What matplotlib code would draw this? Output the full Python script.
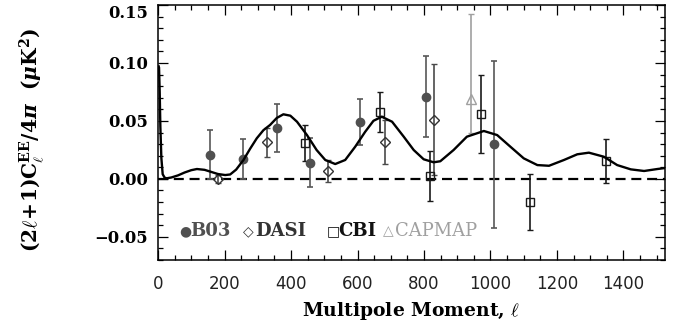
import matplotlib
matplotlib.use("Agg")
import matplotlib.pyplot as plt
from matplotlib.ticker import MultipleLocator, FuncFormatter

plt.rcParams['mathtext.fontset'] = 'custom'
plt.rcParams['mathtext.rm'] = 'DejaVu Serif:bold'
plt.rcParams['mathtext.it'] = 'DejaVu Serif:italic:bold'
plt.rcParams['mathtext.bf'] = 'DejaVu Serif:bold'

# ---------------- data ----------------
theory_l = [2, 3, 5, 7, 10, 14, 20, 26, 40, 60, 80, 100, 117, 140, 160, 180, 202, 217,
            235, 257, 277, 297, 317, 337, 357, 377, 398, 418, 448, 477, 503, 533, 563,
            593, 623, 648, 673, 704, 739, 769, 799, 829, 849, 889, 929, 980, 1020, 1060,
            1100, 1141, 1176, 1221, 1261, 1296, 1341, 1381, 1422, 1462, 1502, 1532]
theory_ee = [0.097, 0.096, 0.075, 0.045, 0.018, 0.004, 0.001, 0.0005, 0.0012, 0.003,
             0.0055, 0.0075, 0.0085, 0.0078, 0.006, 0.0042, 0.0033, 0.0038, 0.008,
             0.0163, 0.026, 0.035, 0.042, 0.0465, 0.0525, 0.0557, 0.0545, 0.0493,
             0.0378, 0.0249, 0.0163, 0.0128, 0.0163, 0.0277, 0.0406, 0.0501, 0.0536,
             0.0493, 0.0364, 0.0249, 0.0169, 0.0143, 0.0152, 0.0249, 0.0364, 0.0413,
             0.0378, 0.0277, 0.0177, 0.0119, 0.0113, 0.0163, 0.0212, 0.0226, 0.0191,
             0.0119, 0.0082, 0.0068, 0.0085, 0.0096]

b03_l = [157, 257, 357, 458, 608, 807, 1010]
b03_ee = [0.021, 0.017, 0.044, 0.014, 0.049, 0.071, 0.030]
b03_err = [0.0215, 0.017, 0.021, 0.021, 0.020, 0.035, 0.072]

dasi_l = [180, 329, 511, 682, 831]
dasi_ee = [0.000, 0.0315, 0.007, 0.032, 0.051]
dasi_err = [0.0035, 0.0125, 0.0095, 0.019, 0.048]

cbi_l = [443, 669, 819, 970, 1120, 1346]
cbi_ee = [0.0307, 0.0574, 0.0027, 0.056, -0.0197, 0.0157]
cbi_err = [0.0155, 0.0173, 0.0216, 0.034, 0.024, 0.019]

capmap_l = [942]
capmap_ee = [0.0686]
capmap_err_lo = [0.029]
capmap_err_hi = [0.074]

x_ticks = [0, 200, 400, 600, 800, 1000, 1200, 1400]
y_ticks = [-0.05, 0.00, 0.05, 0.10, 0.15]

# ---------------- figure ----------------
fig = plt.figure(figsize=(6.8, 3.22), dpi=100)
ax = fig.add_axes([0.2324, 0.1925, 0.7456, 0.792])

ax.axhline(0, color='black', lw=1.6, dashes=(4.5, 2.6), zorder=1)
ax.plot(theory_l, theory_ee, color='black', lw=1.7, zorder=3)

ekw = dict(capsize=2.3, elinewidth=1.2, capthick=1.2, linestyle='none', zorder=2)
ax.errorbar(b03_l, b03_ee, yerr=b03_err, marker='o', ms=6, color='#585858',
            mfc='#505050', mec='#505050', **ekw)
ax.errorbar(dasi_l, dasi_ee, yerr=dasi_err, marker='D', ms=5.5, color='#4a4a4a',
            mfc='none', mec='#333333', mew=1.0, **ekw)
ax.errorbar(cbi_l, cbi_ee, yerr=cbi_err, marker='s', ms=6, color='#1a1a1a',
            mfc='none', mec='#1a1a1a', mew=1.0, **ekw)
ax.errorbar(capmap_l, capmap_ee, yerr=[capmap_err_lo, capmap_err_hi], marker='^',
            ms=7, color='#a0a0a0', mfc='none', mec='#a0a0a0', mew=1.0, **ekw)

ax.set_xlim(0, 1525)
ax.set_ylim(-0.07, 0.15)
ax.set_xticks(x_ticks)
ax.set_yticks(y_ticks)
ax.xaxis.set_minor_locator(MultipleLocator(50))
ax.yaxis.set_minor_locator(MultipleLocator(0.01))
ax.yaxis.set_major_formatter(FuncFormatter(lambda v, p: ('%.2f' % v).replace('-', '\u2212')))
ax.tick_params(which='both', direction='in', top=True, right=True, width=0.9)
ax.tick_params(which='major', length=7)
ax.tick_params(which='minor', length=3.6)
ax.tick_params(axis='x', which='major', pad=11)
ax.tick_params(axis='y', which='major', pad=7)
for s in ax.spines.values():
    s.set_linewidth(1.1)

for lab in ax.get_xticklabels():
    lab.set_family('DejaVu Sans')
    lab.set_fontsize(12)
    lab.set_color('#222222')
for lab in ax.get_yticklabels():
    lab.set_family('DejaVu Serif')
    lab.set_fontweight('bold')
    lab.set_fontsize(11.8)
ax.yaxis.get_major_ticks()[-1].label1.set_verticalalignment('top')

ax.set_xlabel(r'Multipole Moment, $\ell$', family='DejaVu Serif', fontweight='bold',
              fontsize=13.5, va='top')
ax.xaxis.set_label_coords(0.5, -0.155)
fig.text(32 / 680, 1 - 140 / 322,
         r'$(2\ell\!+\!1)\mathrm{C}_\ell^{\mathrm{EE}}/4\pi\ \ (\mu\mathrm{K}^2)$',
         rotation=90, ha='center', va='center', fontsize=14.5)

# legend (text based)
leg_y = 0.114
items = [('\u25cf', 'B03', '#505050', 'bold', 0.041),
         ('\u25c7', 'DASI', '#333333', 'bold', 0.168),
         ('\u25a1', 'CBI', '#111111', 'bold', 0.332),
         ('\u25b3', 'CAPMAP', '#a0a0a0', 'normal', 0.444)]
for sym, name, col, wt, x0 in items:
    ax.text(x0, leg_y, sym, transform=ax.transAxes, family='DejaVu Sans',
            fontsize=10, color=col, ha='left', va='center')
    ax.text(x0 + 0.023, leg_y, name, transform=ax.transAxes, family='DejaVu Serif',
            fontweight=wt, fontsize=13, color=col, ha='left', va='center')

fig.savefig('out.png', dpi=100)
